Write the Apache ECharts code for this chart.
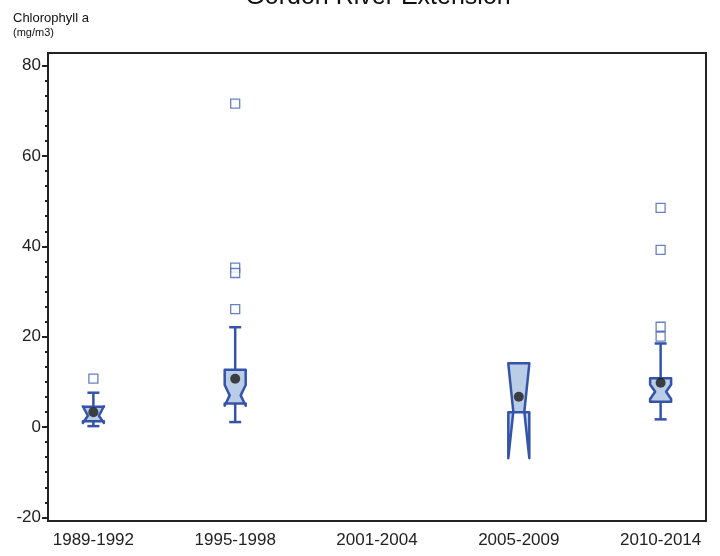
<!DOCTYPE html>
<html><head><meta charset="utf-8">
<script src="https://cdn.jsdelivr.net/npm/echarts@6/dist/echarts.min.js"></script>
<style>html,body{margin:0;padding:0;background:#fff}#c{width:720px;height:556px}</style>
</head><body><div id="c"></div>
<script>
// ---- data ----
const categories = ['1989-1992', '1995-1998', '2001-2004', '2005-2009', '2010-2014'];
const catPos = [1, 2, 3, 4, 5];
const whiskerLow = [0.2, 1.1, null, 3.3, 1.7];
const q1 = [1.3, 5.2, null, 3.3, 5.6];
const notchLow = [0.9, 4.7, null, -6.9, 6.2];
const median = [2.5, 7.0, null, 3.4, 7.8];
const notchHigh = [4.6, 9.3, null, 14.0, 9.4];
const q3 = [4.5, 12.7, null, 14.1, 10.8];
const whiskerHigh = [7.6, 22.1, null, 14.1, 18.5];
const means = [3.3, 10.7, null, 6.7, 9.8];
const outliers = [[10.7], [71.6, 35.3, 34.1, 26.1], [], [], [48.5, 39.2, 22.2, 20.0]];
const yMajorTicks = [-20, 0, 20, 40, 60, 80];

// ---- build ----
const yMin = -20.8, yMax = 82.8;
const yMinorTicks = [];
for (let k = 0; ; k++) {
  const v = -20 + k * 20 / 6;
  if (v > yMax) break;
  if (k % 6 !== 0) yMinorTicks.push(+v.toFixed(4));
}
const boxData = [];
const meanData = [];
const outData = [];
catPos.forEach((p, i) => {
  if (q1[i] != null) {
    boxData.push([p, whiskerLow[i], q1[i], notchLow[i], median[i], notchHigh[i], q3[i], whiskerHigh[i]]);
    meanData.push([p, means[i]]);
  }
  outliers[i].forEach(v => outData.push([p, v]));
});

const STROKE = '#3453a9';
const FILL = '#b9cde6';

function renderBox(params, api) {
  const x = api.value(0);
  const P = v => api.coord([x, v]);
  const hw = 10.5, ind = 5, cap = 6;
  const cx = P(api.value(4))[0];
  const yWL = P(api.value(1))[1], yQ1 = P(api.value(2))[1], yNL = P(api.value(3))[1];
  const yMed = P(api.value(4))[1], yNH = P(api.value(5))[1], yQ3 = P(api.value(6))[1];
  const yWH = P(api.value(7))[1];
  const L = cx - hw, R = cx + hw;
  const children = [];
  const ls = { stroke: STROKE, lineWidth: 2.5 };
  if (Math.abs(yWH - yQ3) > 0.5) {
    children.push({ type: 'line', shape: { x1: cx, y1: yQ3, x2: cx, y2: yWH }, style: ls });
    children.push({ type: 'line', shape: { x1: cx - cap, y1: yWH, x2: cx + cap, y2: yWH }, style: ls });
  }
  if (Math.abs(yWL - yQ1) > 0.5) {
    children.push({ type: 'line', shape: { x1: cx, y1: yQ1, x2: cx, y2: yWL }, style: ls });
    children.push({ type: 'line', shape: { x1: cx - cap, y1: yWL, x2: cx + cap, y2: yWL }, style: ls });
  }
  children.push({
    type: 'polygon',
    shape: { points: [[L, yQ3], [R, yQ3], [R, yNH], [R - ind, yMed], [R, yNL], [R, yQ1], [L, yQ1], [L, yNL], [L + ind, yMed], [L, yNH]] },
    style: { fill: FILL, stroke: STROKE, lineWidth: 2.5, lineJoin: 'round' }
  });
  return { type: 'group', children };
}

const chart = echarts.init(document.getElementById('c'), null, { renderer: 'canvas' });
const FONT = '"Liberation Sans", Arial, sans-serif';
chart.setOption({
  animation: false,
  backgroundColor: '#fff',
  textStyle: { fontFamily: FONT },
  grid: { left: 48, right: 14, top: 53, bottom: 35, show: true, borderColor: '#222', borderWidth: 2, backgroundColor: 'transparent' },
  graphic: [
    { type: 'text', x: 378, y: -3, style: { text: 'Gordon River Extension', font: '25px ' + FONT, fill: '#111', align: 'center', verticalAlign: 'middle' } },
    { type: 'text', x: 13, y: 18, style: { text: 'Chlorophyll a', font: '13px ' + FONT, fill: '#111', align: 'left', verticalAlign: 'middle' } },
    { type: 'text', x: 13, y: 33, style: { text: '(mg/m3)', font: '11px ' + FONT, fill: '#111', align: 'left', verticalAlign: 'middle' } }
  ],
  xAxis: {
    type: 'value', min: 0.68, max: 5.32,
    axisLine: { show: true, onZero: false, lineStyle: { color: '#222', width: 2 } },
    axisTick: { show: false }, splitLine: { show: false },
    axisLabel: { customValues: catPos, formatter: v => categories[catPos.indexOf(v)] || '', fontSize: 17, color: '#222', margin: 11 }
  },
  yAxis: [
    {
      type: 'value', min: yMin, max: yMax, position: 'left',
      axisLine: { show: true, onZero: false, lineStyle: { color: '#222', width: 2 } },
      axisTick: { show: true, customValues: yMajorTicks, length: 6, lineStyle: { color: '#222', width: 2 } },
      axisLabel: { customValues: yMajorTicks, fontSize: 17, color: '#222', margin: 7 },
      splitLine: { show: false }
    },
    {
      type: 'value', min: yMin, max: yMax, position: 'left',
      axisLine: { show: false },
      axisTick: { show: true, customValues: yMinorTicks, length: 3, lineStyle: { color: '#222', width: 2 } },
      axisLabel: { show: false },
      splitLine: { show: false }
    }
  ],
  series: [
    { type: 'custom', renderItem: renderBox, data: boxData, encode: { x: 0, y: [1, 2, 3, 4, 5, 6, 7] }, z: 2 },
    { type: 'scatter', data: meanData, symbol: 'circle', symbolSize: 10, itemStyle: { color: '#1a1a1a' }, z: 3 },
    { type: 'scatter', data: outData, symbol: 'rect', symbolSize: 9, itemStyle: { color: '#fff', borderColor: '#4262b2', borderWidth: 1.3 }, z: 3 }
  ]
});
</script>
</body></html>
